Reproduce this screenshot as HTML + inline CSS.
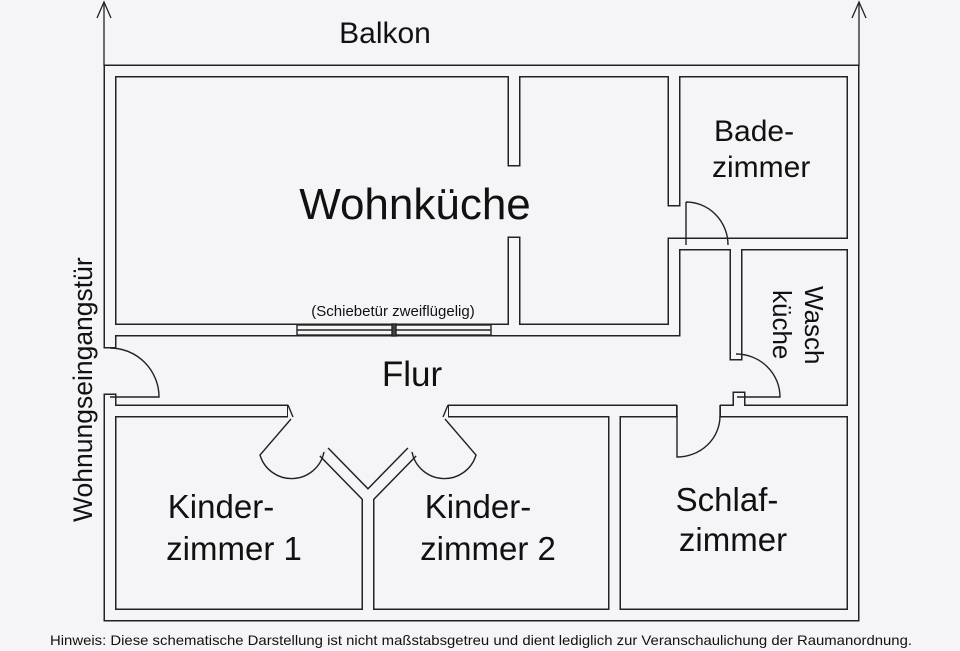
<!DOCTYPE html>
<html><head><meta charset="utf-8"><style>
html,body{margin:0;padding:0;background:#f5f5f7;}
svg{display:block;font-family:"Liberation Sans",Arial,sans-serif;}
</style></head><body>
<svg width="960" height="651" viewBox="0 0 960 651" xmlns="http://www.w3.org/2000/svg">
<rect width="960" height="651" fill="#f5f5f7"/>
<g stroke="#222" stroke-width="1.3" fill="none">
<line x1="104" y1="66" x2="104" y2="2"/><polyline points="97,18 104,2 111,18"/>
<line x1="859" y1="66" x2="859" y2="2"/><polyline points="852,18 859,2 866,18"/>
</g>
<g fill="none" stroke-linecap="square" stroke-linejoin="miter">
<g stroke="#222" stroke-width="13">
<path d="M110,342 V71 H853 V615 H110 V400"/>
<path d="M110,330 H674"/>
<path d="M514,71 V160 M514,243 V330"/>
<path d="M674,71 V200 M674,245 V330"/>
<path d="M674,244 H853"/>
<path d="M736,244 V354 M739,398 V411 H853"/>
<path d="M110,411 H288 M448,411 H677 M720,411 H853" stroke-linecap="butt"/>
<path d="M614.5,411 V615"/>
<path d="M368,615 V497 L324,452 M368,497 L412,452" stroke-linecap="butt"/>
</g>
<g stroke="#f5f5f7" stroke-width="10">
<path d="M110,342 V71 H853 V615 H110 V400"/>
<path d="M110,330 H674"/>
<path d="M514,71 V160 M514,243 V330"/>
<path d="M674,71 V200 M674,245 V330"/>
<path d="M674,244 H853"/>
<path d="M736,244 V354 M739,398 V411 H853"/>
<path d="M111,411 H287 M449,411 H676 M721,411 H852" stroke-linecap="butt"/>
<path d="M614.5,411 V615"/>
<path d="M368,614 V497 L324,452 M368,497 L412,452" stroke-linecap="butt"/>
</g>
</g>
<g stroke="#222" stroke-width="1.4" fill="none">
<line x1="288" y1="405" x2="293" y2="417"/>
<line x1="448" y1="405" x2="443" y2="417"/>
<line x1="677" y1="405" x2="677" y2="417"/>
<line x1="720" y1="405" x2="720" y2="417"/>
<rect x="297" y="325" width="96" height="10" fill="#f5f5f7"/>
<rect x="395" y="325" width="96" height="10" fill="#f5f5f7"/>
<line x1="297" y1="330" x2="393" y2="330"/>
<line x1="395" y1="330" x2="491" y2="330"/>
<rect x="392" y="324" width="4" height="12" fill="#444"/>
<path d="M110,348 A49,49 0 0 1 159,397 H110"/>
<path d="M686,202 A42,43 0 0 1 728,245 M686,202 V245"/>
<path d="M736,354 A44,43 0 0 1 780,397 H737"/>
<path d="M677,416 V457 A43,41 0 0 0 720,416"/>
<path d="M291,419 L260,455 A33,33 0 0 0 324,452"/>
<path d="M445,419 L476,455 A33,33 0 0 1 412,452"/>
</g>
<g fill="#111">
<text x="385" y="43" font-size="30" text-anchor="middle">Balkon</text>
<text x="415" y="219" font-size="44" text-anchor="middle">Wohnküche</text>
<text x="393" y="316" font-size="15" text-anchor="middle">(Schiebetür zweiflügelig)</text>
<text x="412" y="386" font-size="35" text-anchor="middle">Flur</text>
<text x="714" y="141" font-size="30">Bade-</text>
<text x="712" y="177" font-size="30">zimmer</text>
<text transform="translate(805,286) rotate(90)" font-size="26">Wasch</text>
<text transform="translate(773,290) rotate(90)" font-size="26">küche</text>
<text transform="translate(92,522) rotate(-90)" font-size="26.5">Wohnungseingangstür</text>
<text x="221" y="518" font-size="33" text-anchor="middle">Kinder-</text>
<text x="234" y="560" font-size="33" text-anchor="middle">zimmer 1</text>
<text x="478" y="518" font-size="33" text-anchor="middle">Kinder-</text>
<text x="488" y="560" font-size="33" text-anchor="middle">zimmer 2</text>
<text x="727" y="511" font-size="33" text-anchor="middle">Schlaf-</text>
<text x="733" y="551" font-size="33" text-anchor="middle">zimmer</text>
<text x="50" y="645" font-size="14" textLength="862" lengthAdjust="spacingAndGlyphs">Hinweis: Diese schematische Darstellung ist nicht maßstabsgetreu und dient lediglich zur Veranschaulichung der Raumanordnung.</text>
</g>
</svg>
</body></html>
